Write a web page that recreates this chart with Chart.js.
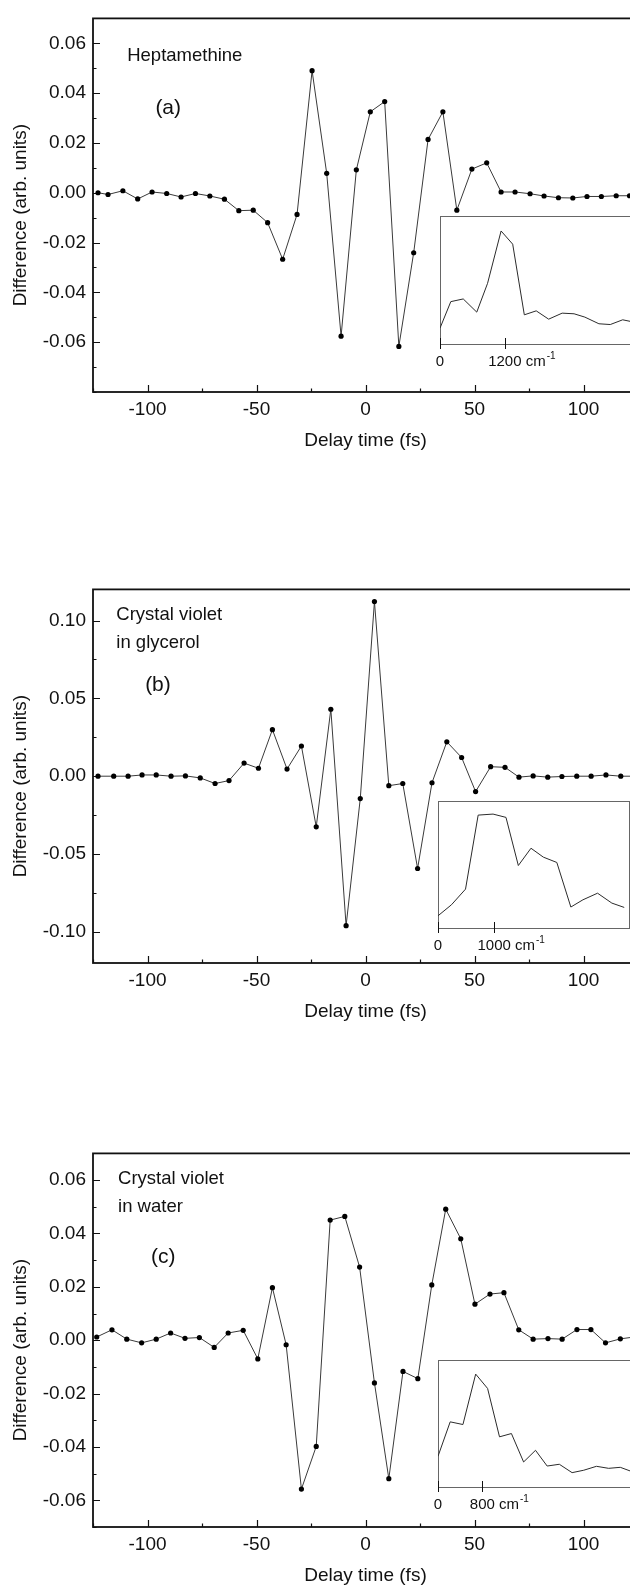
<!DOCTYPE html>
<html>
<head>
<meta charset="utf-8">
<title>Difference vs delay time</title>
<script src="https://cdn.jsdelivr.net/npm/chart.js@4.4.1/dist/chart.umd.min.js"></script>
<style>
  html, body { margin: 0; padding: 0; background: #fff; overflow: hidden; }
  #figure { position: relative; width: 630px; height: 1585px; overflow: hidden; }
  #figure canvas { position: absolute; }
</style>
</head>
<body>
<div id="figure">
  <canvas id="main-a"></canvas>
  <canvas id="inset-a"></canvas>
  <canvas id="main-b"></canvas>
  <canvas id="inset-b"></canvas>
  <canvas id="main-c"></canvas>
  <canvas id="inset-c"></canvas>
</div>
<script>
// ===== Data: panel (a) Heptamethine =====
const delayA = [-122.7, -118.1, -111.3, -104.5, -97.9, -91.2, -84.6, -78.0, -71.4, -64.7, -58.1, -51.5, -44.9, -38.0, -31.4, -24.5, -17.8, -11.2, -4.2, 2.2, 8.8, 15.3, 22.1, 28.7, 35.5, 41.9, 48.8, 55.6, 62.2, 68.6, 75.5, 81.9, 88.5, 95.1, 101.6, 108.2, 115.0, 121.1];
const diffA = [0.0000, -0.0007, 0.0008, -0.0025, 0.0003, -0.0003, -0.0017, -0.0003, -0.0013, -0.0026, -0.0072, -0.0070, -0.0120, -0.0267, -0.0087, 0.0490, 0.0078, -0.0576, 0.0092, 0.0325, 0.0366, -0.0617, -0.0241, 0.0214, 0.0325, -0.0070, 0.0095, 0.0120, 0.0003, 0.0003, -0.0004, -0.0013, -0.0020, -0.0021, -0.0015, -0.0015, -0.0012, -0.0012];
const wavenumA = [0, 200, 430, 680, 880, 1130, 1345, 1560, 1780, 2010, 2260, 2480, 2680, 2940, 3150, 3380, 3530];
const spectrumA = [0.124, 0.331, 0.352, 0.249, 0.474, 0.883, 0.780, 0.228, 0.259, 0.194, 0.241, 0.236, 0.210, 0.158, 0.152, 0.189, 0.176];

// ===== Data: panel (b) Crystal violet in glycerol =====
const delayB = [-122.7, -115.5, -108.9, -102.5, -96.0, -89.2, -82.6, -75.8, -69.0, -62.6, -55.7, -49.1, -42.7, -36.0, -29.4, -22.6, -15.9, -8.9, -2.4, 4.1, 10.7, 17.1, 23.9, 30.5, 37.3, 44.1, 50.5, 57.4, 64.0, 70.4, 76.9, 83.6, 90.1, 96.9, 103.5, 110.3, 117.1, 123.8];
const diffB = [0.0000, 0.0000, 0.0000, 0.0008, 0.0008, 0.0000, 0.0002, -0.0011, -0.0047, -0.0028, 0.0084, 0.0051, 0.0299, 0.0046, 0.0194, -0.0325, 0.0430, -0.0960, -0.0144, 0.1122, -0.0061, -0.0047, -0.0593, -0.0042, 0.0221, 0.0120, -0.0099, 0.0061, 0.0057, -0.0006, 0.0002, -0.0006, -0.0002, 0.0000, 0.0000, 0.0008, 0.0000, 0.0000];
const wavenumB = [0, 240, 490, 715, 980, 1210, 1430, 1655, 1875, 2115, 2365, 2580, 2840, 3095, 3315];
const spectrumB = [0.096, 0.183, 0.306, 0.889, 0.897, 0.871, 0.492, 0.628, 0.558, 0.516, 0.165, 0.222, 0.274, 0.196, 0.162];

// ===== Data: panel (c) Crystal violet in water =====
const delayC = [-123.3, -116.3, -109.5, -102.7, -96.0, -89.4, -82.8, -76.2, -69.4, -63.0, -56.1, -49.4, -42.7, -36.4, -29.4, -22.6, -16.2, -9.5, -2.7, 4.1, 10.7, 17.2, 24.0, 30.4, 36.8, 43.7, 50.2, 57.1, 63.5, 70.3, 76.9, 83.7, 90.2, 97.0, 103.4, 110.1, 116.9, 123.3];
const diffC = [0.0012, 0.0039, 0.0004, -0.0010, 0.0004, 0.0027, 0.0007, 0.0010, -0.0027, 0.0027, 0.0037, -0.0070, 0.0197, -0.0017, -0.0558, -0.0398, 0.0450, 0.0464, 0.0274, -0.0160, -0.0519, -0.0117, -0.0144, 0.0207, 0.0491, 0.0380, 0.0135, 0.0173, 0.0178, 0.0039, 0.0004, 0.0006, 0.0004, 0.0040, 0.0040, -0.0010, 0.0005, 0.0012];
const wavenumC = [0, 220, 450, 680, 895, 1110, 1325, 1545, 1760, 1970, 2190, 2420, 2630, 2860, 3080, 3290, 3470];
const spectrumC = [0.242, 0.513, 0.492, 0.889, 0.776, 0.395, 0.421, 0.197, 0.289, 0.165, 0.179, 0.113, 0.132, 0.163, 0.147, 0.155, 0.126];

// ===== Tick labels and captions =====
const delayTicks = [-100, -50, 0, 50, 100];
const diffTicksA = [-0.06, -0.04, -0.02, 0, 0.02, 0.04, 0.06];
const diffTicksB = [-0.10, -0.05, 0, 0.05, 0.10];
const diffTicksC = [-0.06, -0.04, -0.02, 0, 0.02, 0.04, 0.06];
const wavenumTicksA = [0, 1200];
const wavenumTicksB = [0, 1000];
const wavenumTicksC = [0, 800];
const sampleA = ['Heptamethine'];
const sampleB = ['Crystal violet', 'in glycerol'];
const sampleC = ['Crystal violet', 'in water'];
const DIFF_TITLE = 'Difference (arb. units)';
const DELAY_TITLE = 'Delay time (fs)';

// ===== Layout =====
const FONT_FAMILY = "'Liberation Sans', Arial, Helvetica, sans-serif";
const INK = '#111111';
const MAIN_WIDTH = 660;
const PLOT_LEFT = 93;
const PLOT_RIGHT = 638;
const PLOT_HEIGHT = 380;
const X_AXIS_HEIGHT = 60;
const CANVAS_MARGIN_TOP = 12;
const MAJOR_TICK = 7;
const MINOR_TICK = 3.5;
const NAME_LINE_GAP = 28;
const Y_TITLE_X = 21;
const Y_TITLE_SHIFT = 10;

const PANELS = [
  {
    key: 'a', plotTop: 12, yMin: -0.08, yMax: 0.07, yMinorStep: 0.01,
    delay: delayA, diff: diffA, diffTicks: diffTicksA, sample: sampleA, tag: '(a)',
    sampleAt: [-109.3, 0.0549], tagAt: [-90.5, 0.0339],
    inset: { left: 440, top: 216, bottom: 344, right: 640, xMax: 3700, wavenum: wavenumA, spectrum: spectrumA, ticks: wavenumTicksA },
  },
  {
    key: 'b', plotTop: 583, yMin: -0.12, yMax: 0.12, yMinorStep: 0.025,
    delay: delayB, diff: diffB, diffTicks: diffTicksB, sample: sampleB, tag: '(b)',
    sampleAt: [-114.3, 0.1034], tagAt: [-95.2, 0.0583],
    inset: { left: 438, top: 801, bottom: 928, right: 629, xMax: 3400, wavenum: wavenumB, spectrum: spectrumB, ticks: wavenumTicksB },
  },
  {
    key: 'c', plotTop: 1147, yMin: -0.07, yMax: 0.07, yMinorStep: 0.01,
    delay: delayC, diff: diffC, diffTicks: diffTicksC, sample: sampleC, tag: '(c)',
    sampleAt: [-113.5, 0.0603], tagAt: [-92.8, 0.0312],
    inset: { left: 438, top: 1360, bottom: 1487, right: 643, xMax: 3700, wavenum: wavenumC, spectrum: spectrumC, ticks: wavenumTicksC },
  },
];

Chart.defaults.font.family = FONT_FAMILY;
Chart.defaults.color = INK;

function placeCanvas(canvas, left, top, width, height) {
  canvas.width = width;
  canvas.height = height;
  canvas.style.width = `${width}px`;
  canvas.style.height = `${height}px`;
  canvas.style.left = `${left}px`;
  canvas.style.top = `${top}px`;
}

function minorValues(min, max, step, majors) {
  const values = [];
  const first = Math.ceil(min / step - 1e-6);
  const last = Math.floor(max / step + 1e-6);
  for (let i = first; i <= last; i += 1) {
    const value = i * step;
    if (!majors.some((major) => Math.abs(major - value) < step / 10)) {
      values.push(value);
    }
  }
  return values;
}

// ===== Plugins =====
function makeFramePlugin(panel) {
  return {
    id: `frame-${panel.key}`,
    beforeDatasetsDraw(chart) {
      const { ctx, chartArea: area, scales: { x, y } } = chart;
      ctx.save();
      ctx.strokeStyle = INK;
      ctx.lineWidth = 1.2;
      ctx.beginPath();
      // inward ticks on the bottom axis
      delayTicks.forEach((value) => {
        const px = Math.round(x.getPixelForValue(value)) + 0.5;
        ctx.moveTo(px, area.bottom);
        ctx.lineTo(px, area.bottom - MAJOR_TICK);
      });
      minorValues(x.min, x.max, 25, delayTicks).forEach((value) => {
        const px = Math.round(x.getPixelForValue(value)) + 0.5;
        ctx.moveTo(px, area.bottom);
        ctx.lineTo(px, area.bottom - MINOR_TICK);
      });
      // inward ticks on the left axis
      panel.diffTicks.forEach((value) => {
        const py = Math.round(y.getPixelForValue(value)) + 0.5;
        ctx.moveTo(area.left, py);
        ctx.lineTo(area.left + MAJOR_TICK, py);
      });
      minorValues(y.min, y.max, panel.yMinorStep, panel.diffTicks).forEach((value) => {
        const py = Math.round(y.getPixelForValue(value)) + 0.5;
        ctx.moveTo(area.left, py);
        ctx.lineTo(area.left + MINOR_TICK, py);
      });
      ctx.stroke();
      ctx.lineWidth = 1.8;
      ctx.strokeRect(area.left, area.top, area.right - area.left, area.bottom - area.top);
      ctx.restore();
    },
    afterDatasetsDraw(chart) {
      const { ctx, chartArea: area, scales: { x, y } } = chart;
      ctx.save();
      ctx.fillStyle = INK;
      ctx.textBaseline = 'middle';
      ctx.textAlign = 'left';
      ctx.font = `18.5px ${FONT_FAMILY}`;
      const nameX = x.getPixelForValue(panel.sampleAt[0]);
      const nameY = y.getPixelForValue(panel.sampleAt[1]);
      panel.sample.forEach((line, index) => {
        ctx.fillText(line, nameX, nameY + index * NAME_LINE_GAP);
      });
      ctx.textAlign = 'center';
      ctx.font = `21px ${FONT_FAMILY}`;
      ctx.fillText(panel.tag, x.getPixelForValue(panel.tagAt[0]), y.getPixelForValue(panel.tagAt[1]));

      // y axis title sits a little below the plot centre in the original
      ctx.font = `19px ${FONT_FAMILY}`;
      ctx.translate(Y_TITLE_X, (area.top + area.bottom) / 2 + Y_TITLE_SHIFT);
      ctx.rotate(-Math.PI / 2);
      ctx.fillText(DIFF_TITLE, 0, 0);
      ctx.restore();
    },
  };
}

function makeInsetFramePlugin(panel) {
  const inset = panel.inset;
  return {
    id: `inset-frame-${panel.key}`,
    beforeDatasetsDraw(chart) {
      const { ctx, chartArea: area, scales: { x } } = chart;
      ctx.save();
      ctx.strokeStyle = '#666666';
      ctx.lineWidth = 1;
      ctx.strokeRect(area.left + 0.5, area.top + 0.5, area.right - area.left, area.bottom - area.top);
      ctx.strokeStyle = INK;
      ctx.beginPath();
      inset.ticks.forEach((value) => {
        const px = Math.round(x.getPixelForValue(value)) + 0.5;
        ctx.moveTo(px, area.bottom + 5);
        ctx.lineTo(px, area.bottom - 6);
      });
      ctx.stroke();

      // unit after the last tick label: cm^-1
      const last = inset.ticks[inset.ticks.length - 1];
      ctx.fillStyle = INK;
      ctx.textBaseline = 'middle';
      ctx.textAlign = 'left';
      ctx.font = `15px ${FONT_FAMILY}`;
      const labelWidth = ctx.measureText(String(last)).width;
      const spaceWidth = ctx.measureText(' ').width;
      const unitX = x.getPixelForValue(last) + labelWidth / 2 + spaceWidth;
      const unitY = area.bottom + 18;
      ctx.fillText('cm', unitX, unitY);
      const cmWidth = ctx.measureText('cm').width;
      ctx.font = `10px ${FONT_FAMILY}`;
      ctx.fillText('-1', unitX + cmWidth + 1, unitY - 6);
      ctx.restore();
    },
  };
}

// ===== Charts =====
function createMainChart(panel) {
  const canvas = document.getElementById(`main-${panel.key}`);
  const canvasTop = panel.plotTop - CANVAS_MARGIN_TOP;
  const height = CANVAS_MARGIN_TOP + PLOT_HEIGHT + X_AXIS_HEIGHT;
  placeCanvas(canvas, 0, canvasTop, MAIN_WIDTH, height);

  return new Chart(canvas, {
    type: 'line',
    data: {
      datasets: [{
        data: panel.delay.map((t, i) => ({ x: t, y: panel.diff[i] })),
        borderColor: '#3a3a3a',
        borderWidth: 1,
        pointRadius: 2.6,
        pointBackgroundColor: '#000000',
        pointBorderWidth: 0,
        tension: 0,
      }],
    },
    options: {
      responsive: false,
      animation: false,
      devicePixelRatio: 1,
      events: [],
      layout: { padding: { top: CANVAS_MARGIN_TOP, right: MAIN_WIDTH - PLOT_RIGHT, left: 0, bottom: 0 } },
      plugins: { legend: { display: false }, tooltip: { enabled: false } },
      scales: {
        x: {
          type: 'linear',
          min: -125,
          max: 125,
          bounds: 'data',
          afterBuildTicks: (scale) => { scale.ticks = delayTicks.map((value) => ({ value })); },
          afterFit: (scale) => { scale.height = X_AXIS_HEIGHT; },
          grid: { display: false, drawTicks: false },
          border: { display: false },
          ticks: { autoSkip: false, maxRotation: 0, padding: 6, font: { size: 19 }, color: INK },
          title: { display: true, text: DELAY_TITLE, font: { size: 19 }, color: INK, padding: 0 },
        },
        y: {
          type: 'linear',
          min: panel.yMin,
          max: panel.yMax,
          bounds: 'data',
          afterBuildTicks: (scale) => { scale.ticks = panel.diffTicks.map((value) => ({ value })); },
          afterFit: (scale) => { scale.width = PLOT_LEFT; },
          grid: { display: false, drawTicks: false },
          border: { display: false },
          ticks: { autoSkip: false, padding: 7, font: { size: 19 }, color: INK, callback: (value) => Number(value).toFixed(2) },
        },
      },
    },
    plugins: [makeFramePlugin(panel)],
  });
}

function createInsetChart(panel) {
  const inset = panel.inset;
  const canvas = document.getElementById(`inset-${panel.key}`);
  const canvasLeft = inset.left - 14;
  const canvasTop = inset.top - 2;
  const width = MAIN_WIDTH - canvasLeft;
  const axisHeight = 32;
  const height = inset.bottom - inset.top + 2 + axisHeight;
  placeCanvas(canvas, canvasLeft, canvasTop, width, height);

  return new Chart(canvas, {
    type: 'line',
    data: {
      datasets: [{
        data: inset.wavenum.map((w, i) => ({ x: w, y: inset.spectrum[i] })),
        borderColor: '#2b2b2b',
        borderWidth: 1,
        pointRadius: 0,
        tension: 0,
      }],
    },
    options: {
      responsive: false,
      animation: false,
      devicePixelRatio: 1,
      events: [],
      layout: { padding: { left: 14, top: 2, right: width - 14 - (inset.right - inset.left), bottom: 0 } },
      plugins: { legend: { display: false }, tooltip: { enabled: false } },
      scales: {
        x: {
          type: 'linear',
          min: 0,
          max: inset.xMax,
          bounds: 'data',
          afterBuildTicks: (scale) => { scale.ticks = inset.ticks.map((value) => ({ value })); },
          afterFit: (scale) => { scale.height = axisHeight; },
          grid: { display: false, drawTicks: false },
          border: { display: false },
          ticks: { autoSkip: false, maxRotation: 0, padding: 9, font: { size: 15 }, color: INK, callback: (value) => String(value) },
        },
        y: { type: 'linear', display: false, min: 0, max: 1 },
      },
    },
    plugins: [makeInsetFramePlugin(panel)],
  });
}

// ===== Bootstrap =====
PANELS.forEach((panel) => {
  createMainChart(panel);
  createInsetChart(panel);
});
</script>
</body>
</html>
